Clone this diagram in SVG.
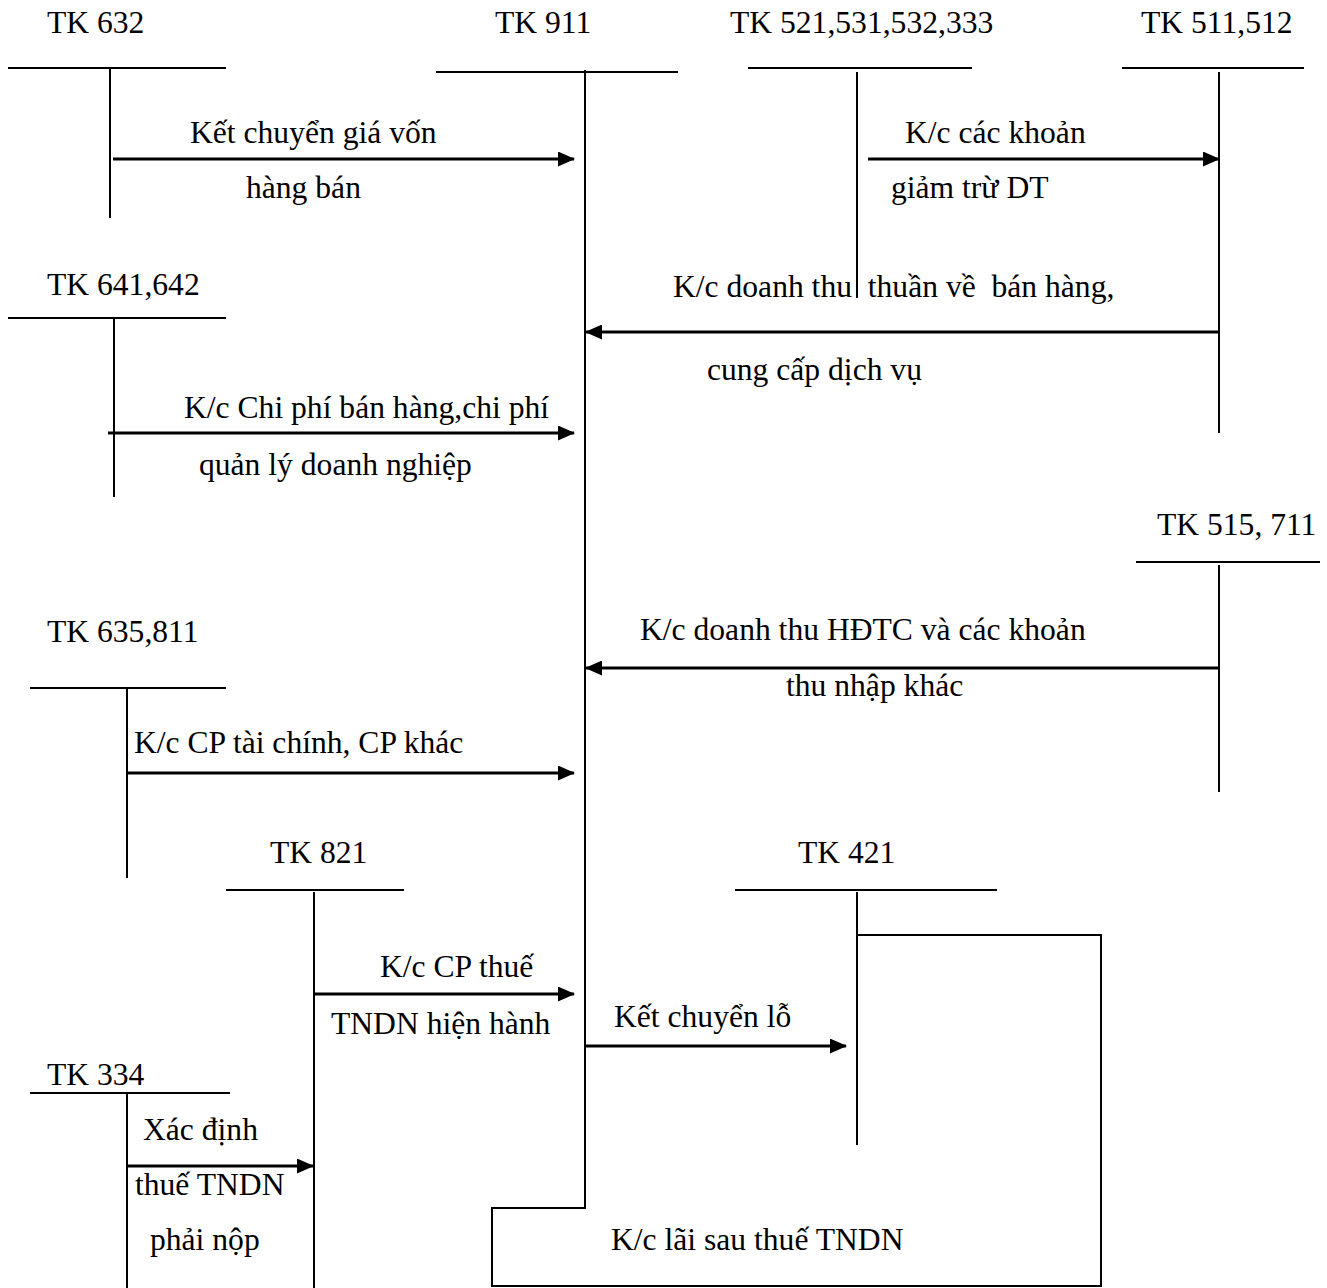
<svg xmlns="http://www.w3.org/2000/svg" width="1327" height="1288" viewBox="0 0 1327 1288">
  <style>
    text { font-family: "Liberation Serif", "Times New Roman", serif; font-size: 31.6px; fill: #000; }
    .t { stroke: #000; stroke-width: 2; fill: none; }
    .a { stroke: #000; stroke-width: 3; fill: none; marker-end: url(#head); }
  </style>
  <defs>
    <marker id="head" markerUnits="userSpaceOnUse" markerWidth="17" markerHeight="15" refX="16" refY="7.5" orient="auto">
      <path d="M0,0 L17,7.5 L0,15 Z" fill="#000"/>
    </marker>
  </defs>
  <rect width="1327" height="1288" fill="#fff"/>

  <!-- T-accounts -->
  <g id="tk632">
    <text x="47" y="33">TK 632</text>
    <path class="t" d="M8,68 H226 M110,68 V218"/>
  </g>
  <g id="tk911">
    <text x="495" y="33">TK 911</text>
    <path class="t" d="M436,72 H678 M585,70 V1208 H492 V1286 H1101 V935 H857"/>
  </g>
  <g id="tk521">
    <text x="730" y="33">TK 521,531,532,333</text>
    <path class="t" d="M748,68 H972 M857,72 V298"/>
  </g>
  <g id="tk511">
    <text x="1141" y="33">TK 511,512</text>
    <path class="t" d="M1122,68 H1304 M1219,72 V433"/>
  </g>
  <g id="tk641">
    <text x="47" y="295">TK 641,642</text>
    <path class="t" d="M8,318 H226 M114,318 V497"/>
  </g>
  <g id="tk515">
    <text x="1157" y="535">TK 515, 711</text>
    <path class="t" d="M1136,562 H1320 M1219,565 V792"/>
  </g>
  <g id="tk635">
    <text x="47" y="642">TK 635,811</text>
    <path class="t" d="M30,688 H226 M127,688 V878"/>
  </g>
  <g id="tk821">
    <text x="270" y="863">TK 821</text>
    <path class="t" d="M226,890 H404 M314,892 V1288"/>
  </g>
  <g id="tk421">
    <text x="798" y="863">TK 421</text>
    <path class="t" d="M735,890 H997 M857,892 V1145"/>
  </g>
  <g id="tk334">
    <text x="47" y="1085">TK 334</text>
    <path class="t" d="M30,1093 H230 M127,1093 V1288"/>
  </g>

  <!-- transfer entries -->
  <g id="connectors">
    <line class="a" x1="113" y1="159" x2="574" y2="159"/>
    <line class="a" x1="868" y1="159" x2="1219" y2="159"/>
    <line class="a" x1="1219" y1="332" x2="586" y2="332"/>
    <line class="a" x1="108" y1="433" x2="574" y2="433"/>
    <line class="a" x1="1219" y1="668" x2="586" y2="668"/>
    <line class="a" x1="127" y1="773" x2="574" y2="773"/>
    <line class="a" x1="314" y1="994" x2="574" y2="994"/>
    <line class="a" x1="586" y1="1046" x2="846" y2="1046"/>
    <line class="a" x1="127" y1="1166" x2="313" y2="1166"/>
  </g>

  <!-- entry labels -->
  <g id="labels">
    <text x="190" y="143">Kết chuyển giá vốn</text>
    <text x="246" y="198">hàng bán</text>
    <text x="905" y="143">K/c các khoản</text>
    <text x="891" y="198">giảm trừ DT</text>
    <text x="673" y="297" xml:space="preserve">K/c doanh thu  thuần về  bán hàng,</text>
    <text x="707" y="380">cung cấp dịch vụ</text>
    <text x="184" y="418">K/c Chi phí bán hàng,chi phí</text>
    <text x="199" y="475">quản lý doanh nghiệp</text>
    <text x="640" y="640">K/c doanh thu HĐTC và các khoản</text>
    <text x="786" y="696">thu nhập khác</text>
    <text x="134" y="753">K/c CP tài chính, CP khác</text>
    <text x="380" y="977">K/c CP thuế</text>
    <text x="331" y="1034">TNDN hiện hành</text>
    <text x="614" y="1027">Kết chuyển lỗ</text>
    <text x="143" y="1140">Xác định</text>
    <text x="135" y="1195">thuế TNDN</text>
    <text x="150" y="1250">phải nộp</text>
    <text x="611" y="1250">K/c lãi sau thuế TNDN</text>
  </g>
</svg>
